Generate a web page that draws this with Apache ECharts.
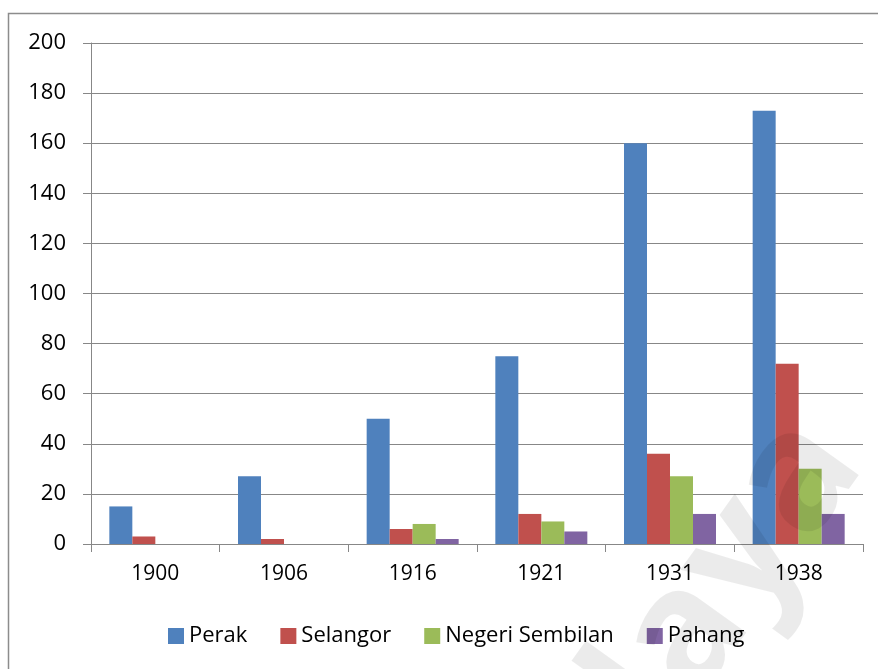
<!DOCTYPE html>
<html>
<head>
<meta charset="utf-8">
<script src="https://cdn.jsdelivr.net/npm/echarts@6/dist/echarts.min.js"></script>
<style>
  html, body { margin: 0; padding: 0; background: #fff; }
  #chart { width: 878px; height: 669px; }
</style>
</head>
<body>
<div id="chart"></div>
<script>
var years = ['1900', '1906', '1916', '1921', '1931', '1938']
var perak = [15, 27, 50, 75, 160, 173]
var selangor = [3, 2, 6, 12, 36, 72]
var negeriSembilan = [0, 0, 8, 9, 27, 30]
var pahang = [0, 0, 2, 5, 12, 12]
var yTicks = { min: 0, max: 200, interval: 20 }

var font = 'Open Sans'
var gridColor = '#878787'

function barSeries(name, data, color) {
  return {
    name: name,
    type: 'bar',
    data: data,
    barWidth: 23,
    barGap: '0%',
    itemStyle: { color: color }
  }
}

var chart = echarts.init(document.getElementById('chart'))
chart.setOption({
  animation: false,
  grid: { left: 91, right: 15, top: 43, bottom: 125 },
  xAxis: {
    type: 'category',
    data: years,
    axisLine: { lineStyle: { color: gridColor, width: 1 } },
    axisTick: { show: true, length: 8, lineStyle: { color: gridColor } },
    axisLabel: { color: '#000', fontFamily: font, fontSize: 21, margin: 20 }
  },
  yAxis: {
    type: 'value',
    min: yTicks.min,
    max: yTicks.max,
    interval: yTicks.interval,
    axisLine: { show: true, lineStyle: { color: gridColor, width: 1 } },
    axisTick: { show: true, length: 8, lineStyle: { color: gridColor } },
    axisLabel: { color: '#000', fontFamily: font, fontSize: 22, margin: 25 },
    splitLine: { lineStyle: { color: gridColor, width: 1 } }
  },
  legend: {
    bottom: 17,
    left: 163,
    itemWidth: 16,
    itemHeight: 16,
    itemGap: 33,
    icon: 'rect',
    textStyle: { color: '#000', fontFamily: font, fontSize: 22 },
    data: ['Perak', 'Selangor', 'Negeri Sembilan', 'Pahang']
  },
  series: [
    barSeries('Perak', perak, '#4F81BD'),
    barSeries('Selangor', selangor, '#C0504D'),
    barSeries('Negeri Sembilan', negeriSembilan, '#9BBB59'),
    barSeries('Pahang', pahang, '#8064A2')
  ],
  graphic: [
    {
      type: 'rect',
      shape: { x: 8.5, y: 13.5, width: 900, height: 700 },
      style: { fill: 'none', stroke: '#8c8c8c', lineWidth: 1.5 },
      silent: true
    },
    {
      // faint watermark in the bottom-right corner
      type: 'text',
      x: 695,
      y: 765,
      rotation: 0.95,
      z: 100,
      style: {
        text: 'laya',
        font: 'bold 165px "Open Sans"',
        fill: 'rgba(0,0,0,0.08)',
        textVerticalAlign: 'bottom'
      },
      silent: true
    }
  ]
})
</script>
</body>
</html>
